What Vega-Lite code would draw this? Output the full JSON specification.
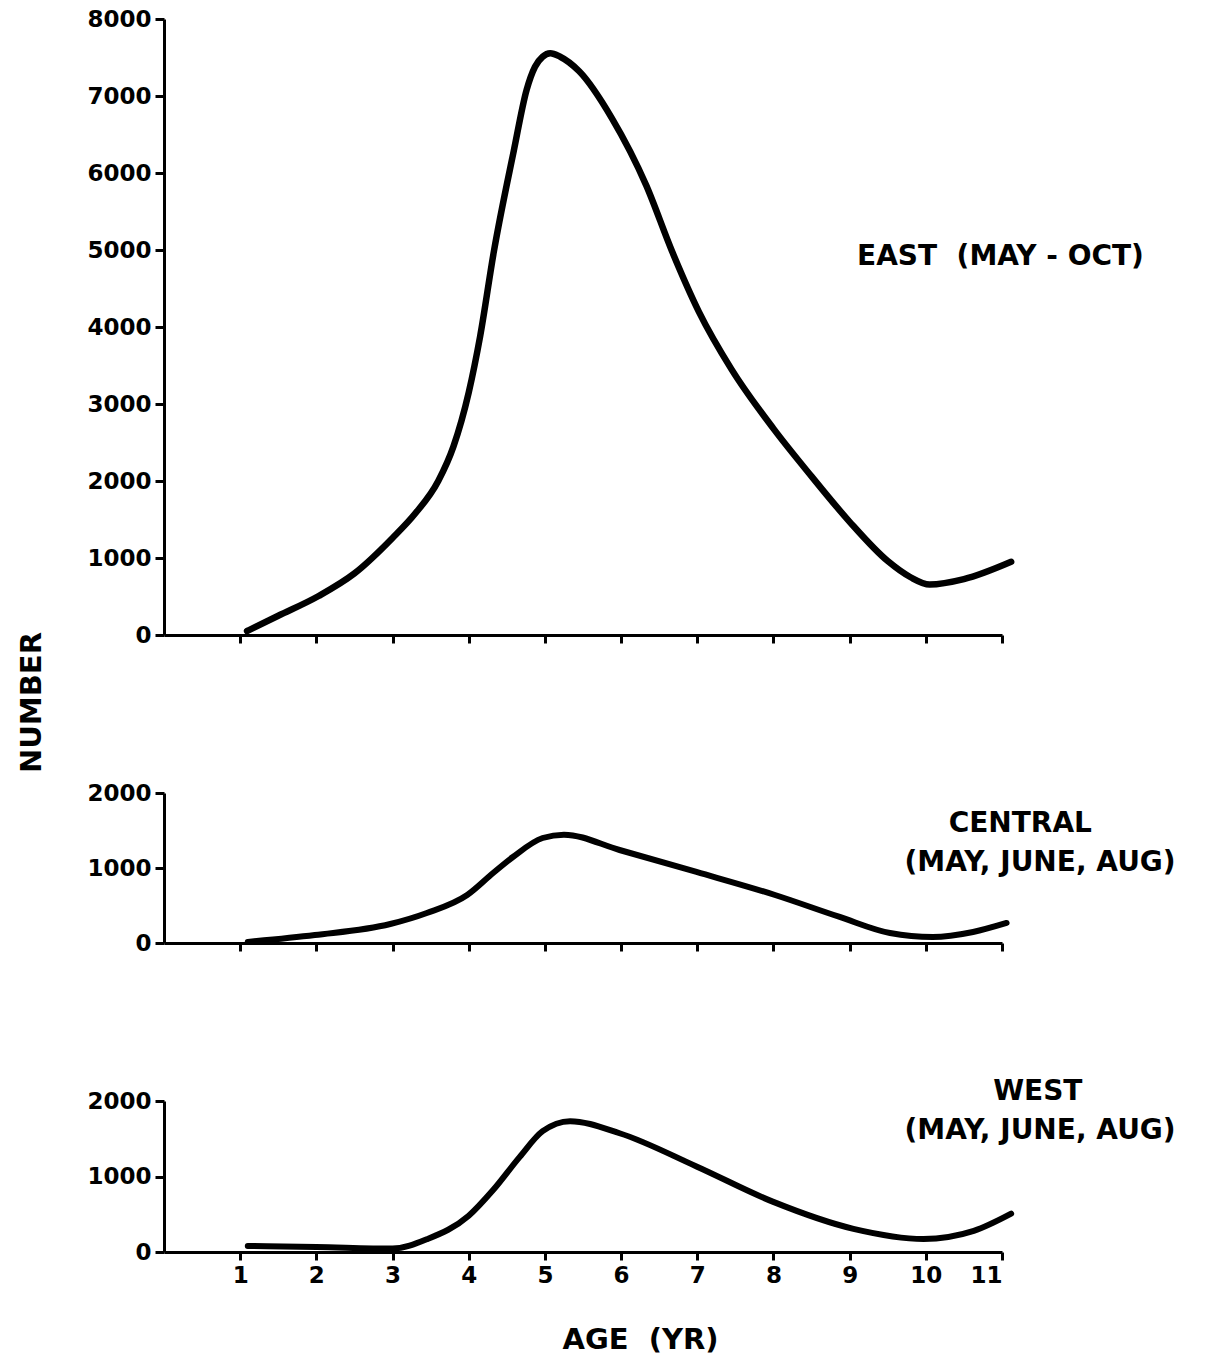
{
  "$schema": "https://vega.github.io/schema/vega-lite/v6.json",
  "background": "white",
  "padding": {"left": 17, "top": 8, "right": 5, "bottom": 5},
  "bounds": "flush",
  "spacing": 158,
  "datasets": {
    "east": [
      {"age": 1.09, "number": 52},
      {"age": 1.5, "number": 250},
      {"age": 2.03, "number": 507},
      {"age": 2.5, "number": 800},
      {"age": 3.0, "number": 1260},
      {"age": 3.3, "number": 1580},
      {"age": 3.6, "number": 2000},
      {"age": 3.8, "number": 2450},
      {"age": 4.0, "number": 3150},
      {"age": 4.15, "number": 3880},
      {"age": 4.33, "number": 4980},
      {"age": 4.59, "number": 6281},
      {"age": 4.76, "number": 7080},
      {"age": 4.87, "number": 7380},
      {"age": 4.97, "number": 7510},
      {"age": 5.07, "number": 7555},
      {"age": 5.2, "number": 7510},
      {"age": 5.45, "number": 7321},
      {"age": 5.88, "number": 6710},
      {"age": 6.33, "number": 5839},
      {"age": 6.67, "number": 4980},
      {"age": 7.02, "number": 4200},
      {"age": 7.45, "number": 3450},
      {"age": 8.0, "number": 2680},
      {"age": 8.5, "number": 2060},
      {"age": 9.0, "number": 1470},
      {"age": 9.5, "number": 960},
      {"age": 9.8, "number": 750},
      {"age": 10.05, "number": 655},
      {"age": 10.5, "number": 725},
      {"age": 11.12, "number": 950}
    ],
    "eastLabel": [
      {"age": 10.98, "number": 4910, "label": "EAST\u00a0 (MAY\u00a0-\u00a0OCT)"}
    ],
    "central": [
      {"age": 1.1, "number": 15},
      {"age": 1.98, "number": 107},
      {"age": 2.97, "number": 253},
      {"age": 3.45, "number": 400},
      {"age": 3.98, "number": 640},
      {"age": 4.32, "number": 933},
      {"age": 4.58, "number": 1147},
      {"age": 4.97, "number": 1400},
      {"age": 5.25, "number": 1445},
      {"age": 5.98, "number": 1240},
      {"age": 6.99, "number": 947},
      {"age": 8.02, "number": 640},
      {"age": 8.87, "number": 347},
      {"age": 9.53, "number": 133},
      {"age": 10.09, "number": 80},
      {"age": 10.62, "number": 147},
      {"age": 11.06, "number": 267}
    ],
    "centralLabel": [
      {"age": 11.24, "number": 1589, "label": "CENTRAL"},
      {"age": 11.5, "number": 1073, "label": "(MAY, JUNE, AUG)"}
    ],
    "west": [
      {"age": 1.1, "number": 80},
      {"age": 2.0, "number": 67},
      {"age": 3.0, "number": 45},
      {"age": 3.46, "number": 173},
      {"age": 4.0, "number": 480},
      {"age": 4.32, "number": 820},
      {"age": 4.67, "number": 1260},
      {"age": 4.97, "number": 1600},
      {"age": 5.33, "number": 1733},
      {"age": 5.98, "number": 1573},
      {"age": 6.99, "number": 1133},
      {"age": 7.99, "number": 667},
      {"age": 9.05, "number": 307},
      {"age": 9.97, "number": 173},
      {"age": 10.63, "number": 280},
      {"age": 11.12, "number": 507}
    ],
    "westLabel": [
      {"age": 11.47, "number": 2119, "label": "WEST"},
      {"age": 11.5, "number": 1603, "label": "(MAY, JUNE, AUG)"}
    ]
  },
  "config": {
    "view": {"stroke": null},
    "axis": {
      "grid": false,
      "domainColor": "black",
      "domainWidth": 3,
      "tickColor": "black",
      "tickWidth": 3,
      "tickSize": 8,
      "labelFont": "DejaVu Sans",
      "labelFontWeight": "bold",
      "labelFontSize": 23,
      "labelColor": "black",
      "titleFont": "DejaVu Sans",
      "titleFontWeight": "bold",
      "titleFontSize": 29,
      "titleColor": "black"
    },
    "text": {"font": "DejaVu Sans", "fontWeight": "bold", "fontSize": 28, "color": "black", "align": "center", "baseline": "middle"}
  },
  "vconcat": [
    {
      "width": 838,
      "height": 616,
      "encoding": {
        "x": {"field": "age", "type": "quantitative", "scale": {"domain": [0, 11], "nice": false, "zero": false},
              "axis": {"values": [1, 2, 3, 4, 5, 6, 7, 8, 9, 10, 11], "labels": false, "title": null}},
        "y": {"field": "number", "type": "quantitative", "scale": {"domain": [0, 8000], "nice": false},
              "axis": {"values": [0, 1000, 2000, 3000, 4000, 5000, 6000, 7000, 8000], "format": "d", "title": null, "tickSize": 9, "labelPadding": 4}}
      },
      "layer": [
        {"data": {"name": "east"}, "mark": {"type": "line", "interpolate": "monotone", "color": "black", "strokeWidth": 6.5, "strokeCap": "round"}},
        {"data": {"name": "eastLabel"}, "mark": {"type": "text"}, "encoding": {"text": {"field": "label"}}}
      ]
    },
    {
      "width": 838,
      "height": 150,
      "encoding": {
        "x": {"field": "age", "type": "quantitative", "scale": {"domain": [0, 11], "nice": false, "zero": false},
              "axis": {"values": [1, 2, 3, 4, 5, 6, 7, 8, 9, 10, 11], "labels": false, "title": null}},
        "y": {"field": "number", "type": "quantitative", "scale": {"domain": [0, 2000], "nice": false},
              "axis": {"values": [0, 1000, 2000], "format": "d", "title": "NUMBER", "tickSize": 9, "labelPadding": 4,
                       "titleX": -133, "titleY": -91, "titleAngle": -90, "titleAlign": "center", "titleBaseline": "middle"}}
      },
      "layer": [
        {"data": {"name": "central"}, "mark": {"type": "line", "interpolate": "monotone", "color": "black", "strokeWidth": 6, "strokeCap": "round"}},
        {"data": {"name": "centralLabel"}, "mark": {"type": "text"}, "encoding": {"text": {"field": "label"}}}
      ]
    },
    {
      "width": 838,
      "height": 151,
      "encoding": {
        "x": {"field": "age", "type": "quantitative", "scale": {"domain": [0, 11], "nice": false, "zero": false},
              "axis": {"values": [1, 2, 3, 4, 5, 6, 7, 8, 9, 10, 11], "format": "d", "labelPadding": 4, "title": "AGE\u00a0\u00a0(YR)",
                       "titleX": 476, "titleY": 87, "titleAlign": "center", "titleBaseline": "middle"}},
        "y": {"field": "number", "type": "quantitative", "scale": {"domain": [0, 2000], "nice": false},
              "axis": {"values": [0, 1000, 2000], "format": "d", "title": null, "tickSize": 9, "labelPadding": 4}}
      },
      "layer": [
        {"data": {"name": "west"}, "mark": {"type": "line", "interpolate": "monotone", "color": "black", "strokeWidth": 6, "strokeCap": "round"}},
        {"data": {"name": "westLabel"}, "mark": {"type": "text"}, "encoding": {"text": {"field": "label"}}}
      ]
    }
  ]
}
